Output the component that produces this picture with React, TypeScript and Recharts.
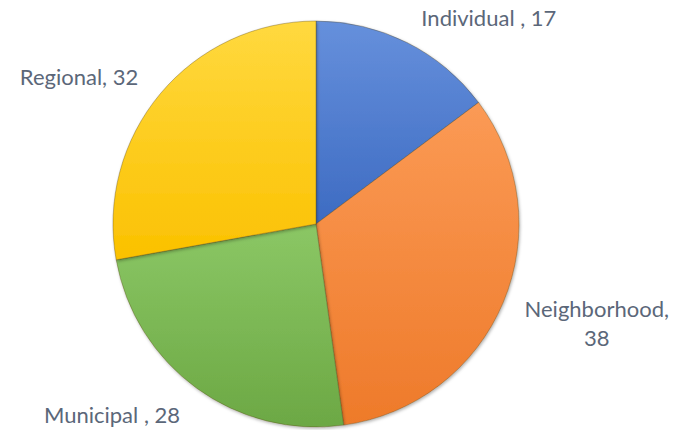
import React from "react";
import { PieChart, Pie, Cell } from "recharts";

const categories = ["Individual ", "Neighborhood", "Municipal ", "Regional"];
const values = [17, 38, 28, 32];
const colorsLight = ["#6690DC", "#FB9A55", "#8BC765", "#FFD93F"];
const colorsDark = ["#3D6BC2", "#EE7A2A", "#6CA844", "#FBC100"];

const data = categories.map((c, i) => ({ name: c, value: values[i] }));

const RADIAN = Math.PI / 180;
const FONT = "Lato, 'Open Sans', sans-serif";
const FONT_SIZE = 22;
const TEXT_COLOR = "#5b6779";

const renderLabel = (props: any) => {
  const { cx, cy, midAngle, outerRadius, name, value } = props;
  const r = outerRadius + 30;
  const x = cx + r * Math.cos(-midAngle * RADIAN);
  const y = cy + r * Math.sin(-midAngle * RADIAN);
  const right = x > cx;
  const text = `${name}, ${value}`;
  const estWidth = text.length * 10;
  if (right && x + estWidth > 680) {
    const line1 = `${name},`;
    const w1 = line1.length * 11.2;
    const center = x - 7 + w1 / 2;
    return (
      <text
        x={center}
        y={y - 6}
        fill={TEXT_COLOR}
        fontFamily={FONT}
        fontSize={FONT_SIZE}
        textAnchor="middle"
        dominantBaseline="central"
      >
        <tspan x={center} dy={0}>{line1}</tspan>
        <tspan x={center} dy={29}>{String(value)}</tspan>
      </text>
    );
  }
  return (
    <text
      x={right ? x + 1 : x + 1}
      y={y + 2}
      fill={TEXT_COLOR}
      fontFamily={FONT}
      fontSize={FONT_SIZE}
      textAnchor={right ? "start" : "end"}
      dominantBaseline="central"
    >
      {text}
    </text>
  );
};

export default function App() {
  return (
    <div style={{ position: "absolute", left: 0, top: 0, background: "#fff" }}>
      <PieChart
        width={689}
        height={430}
        margin={{ top: 0, right: 0, bottom: 0, left: 0 }}
      >
        <defs>
          {categories.map((c, i) => (
            <linearGradient key={c} id={`g${i}`} x1="0" y1="0" x2="0" y2="1">
              <stop offset="0%" stopColor={colorsLight[i]} />
              <stop offset="100%" stopColor={colorsDark[i]} />
            </linearGradient>
          ))}
          <filter id="shadow" x="-10%" y="-10%" width="120%" height="120%">
            <feDropShadow dx="1" dy="1.5" stdDeviation="1.5" floodColor="#000" floodOpacity="0.3" />
          </filter>
        </defs>
        <Pie
          data={data}
          dataKey="value"
          nameKey="name"
          cx={316}
          cy={224}
          outerRadius={203}
          startAngle={90}
          endAngle={-270}
          label={renderLabel}
          labelLine={false}
          isAnimationActive={false}
          stroke="rgba(90,70,20,0.35)"
          strokeWidth={1}
          style={{ filter: "url(#shadow)" }}
        >
          {data.map((d, i) => (
            <Cell key={d.name} fill={`url(#g${i})`} />
          ))}
        </Pie>
      </PieChart>
    </div>
  );
}
